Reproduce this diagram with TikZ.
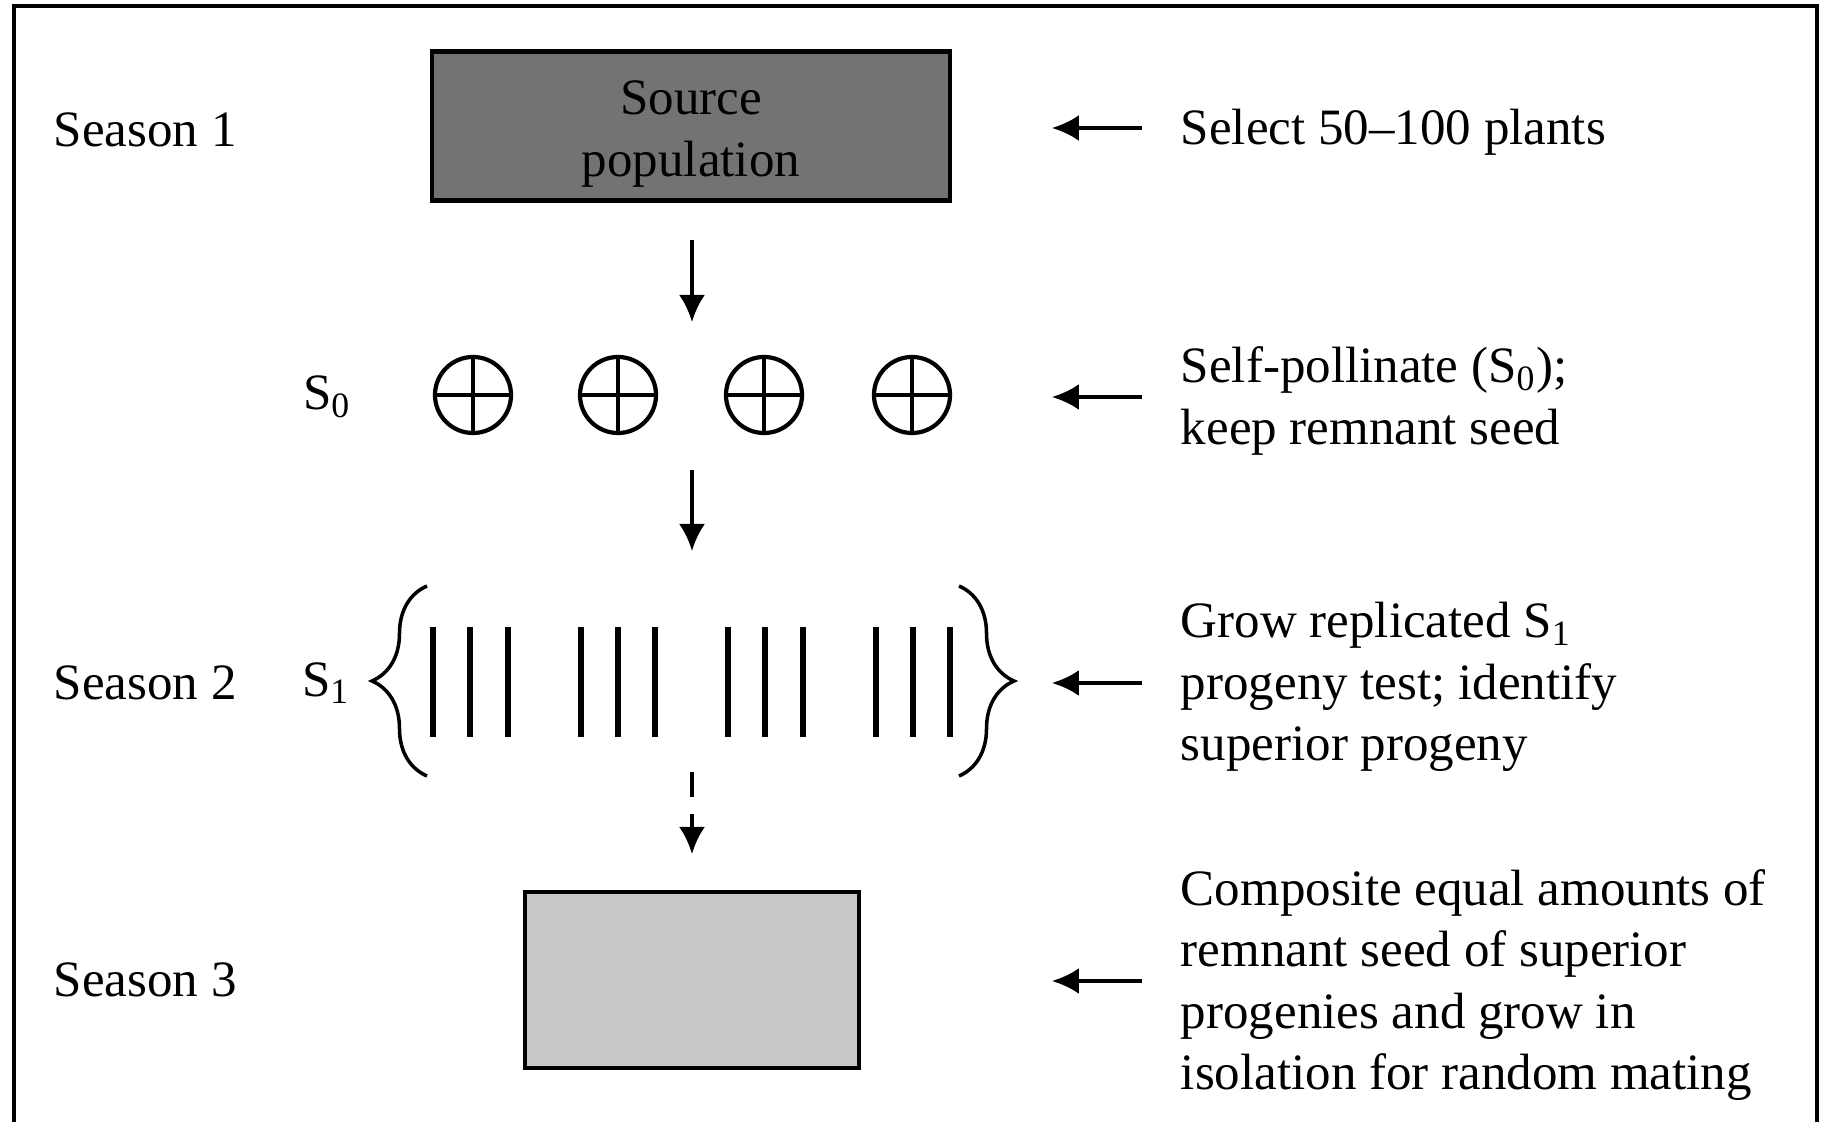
\documentclass[tikz,border=0pt]{standalone}
\usepackage{fontspec}
\setmainfont{Liberation Serif}
\usetikzlibrary{arrows.meta,positioning,decorations.pathreplacing}

\begin{document}
\begin{tikzpicture}[x=0.01cm,y=-0.01cm,->,>={Latex[length=0.27cm,width=0.26cm]},line width=1.1pt,
                    font=\fontsize{14.5}{17.4}\selectfont,
                    every node/.style={inner sep=0pt},
                    season/.style={anchor=west},
                    note/.style={anchor=west,align=left},
                    plant/.style={circle,draw,line width=1.2pt,minimum size=0.76cm},
                    bar/.style={-,line width=1.7pt},
                    curly/.style={-,line width=1pt,decorate,decoration={brace,amplitude=0.55cm}}]

        \useasboundingbox (0,0) rectangle (1821,1122);
        \draw[-,line width=1.4pt] (14,1122) -- (14,6) -- (1817,6) -- (1817,1122);

        % season 1
        \node[season] (sea1) at (52,130) {Season 1};
        \node[draw,line width=1.2pt,fill=black!55,minimum width=5.18cm,minimum height=1.49cm] (src) at (691,126) {};
        \node[align=center] (srctxt) at (src.center) [yshift=-0.08cm] {Source\\population};
        \node[note] (n1) at (1179,132) {Select 50--100 plants};

        % selfed plants
        \node (lbl0) at (327,397) {S\textsubscript{0}};
        \foreach \i/\x in {1/473,2/618,3/764,4/912} {
            \node[plant] (p\i) at (\x,395) {};
            \draw[-,line width=1.2pt] (p\i.north) -- (p\i.south) (p\i.west) -- (p\i.east);
        }
        \node[note] (n2) at (1179,401) {Self-pollinate (S\textsubscript{0});\\keep remnant seed};

        % season 2
        \node[season] (sea2) at (52,683) {Season 2};
        \node (lbl1) at (326,683) {S\textsubscript{1}};
        \foreach \x in {433,470,508,581,618,655,728,765,803,876,913,950}
            \draw[bar] (\x,627) -- (\x,737);
        \draw[curly] (427,776) -- (427,586);
        \draw[curly] (959,586) -- (959,776);
        \node[note] (n3) at (1179,687) {Grow replicated S\textsubscript{1}\\progeny test; identify\\superior progeny};

        % season 3
        \node[season] (sea3) at (52,980) {Season 3};
        \node[draw,line width=1.2pt,fill=black!21,minimum width=3.34cm,minimum height=1.76cm] (comp) at (692,980) {};
        \node[note] (n4) at (1179,985) {Composite equal amounts of\\remnant seed of superior\\progenies and grow in\\isolation for random mating};

        % flow arrows
        \coordinate (d1a) at (692,240);
        \coordinate (d1b) at (692,322);
        \coordinate (d2a) at (692,470);
        \coordinate (d2b) at (692,551);
        \coordinate (d3a) at (692,772);
        \coordinate (d3b) at (692,854);
        \draw (d1a) -- (d1b);
        \draw (d2a) -- (d2b);
        \draw[dash pattern=on 7pt off 5pt] (d3a) -- (d3b);

        \foreach \n in {n1,n2,n3,n4}
            \draw ([xshift=-0.37cm,yshift=0.04cm]\n.west) -- ([xshift=-1.27cm,yshift=0.04cm]\n.west);
      \end{tikzpicture}
\end{document}
